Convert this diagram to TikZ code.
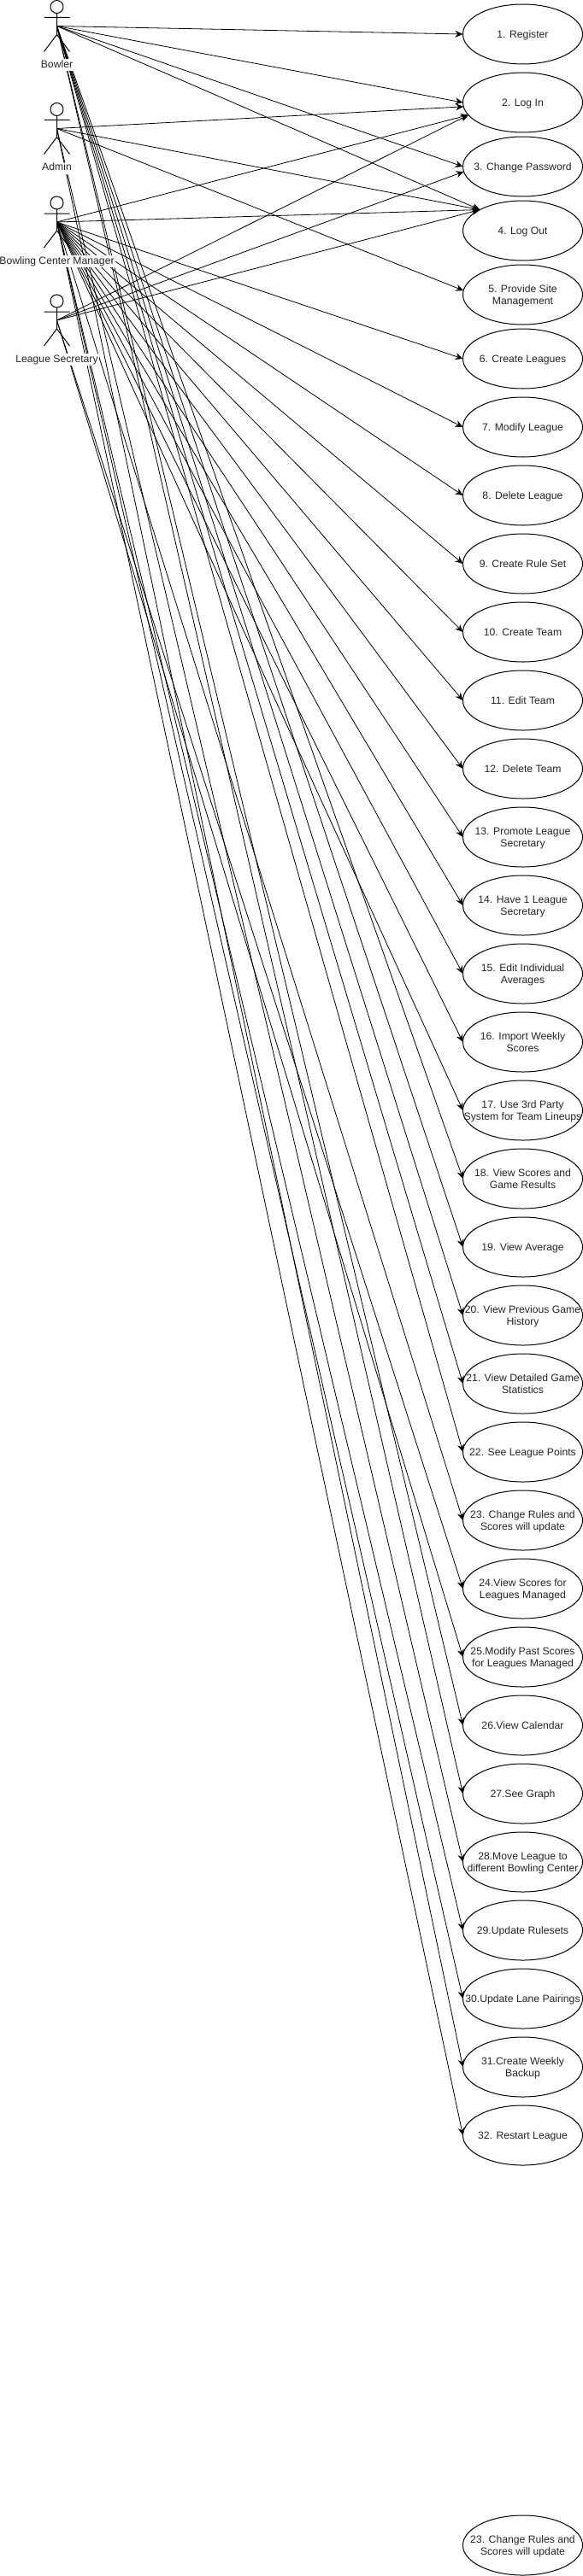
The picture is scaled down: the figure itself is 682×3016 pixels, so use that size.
\documentclass[tikz,border=0pt]{standalone}
\usepackage{fontspec}
\setmainfont{Liberation Sans}
\usetikzlibrary{arrows.meta,positioning,shapes.geometric}
\newcommand{\caselabel}[1]{\makebox[0pt]{\raisebox{-5pt}[0pt][0pt]{\begin{tabular}{@{}c@{}}#1\end{tabular}}}}
\begin{document}
\begin{tikzpicture}[
      x=1pt,y=-1pt,
      node distance=10pt,
      usecase/.style={ellipse,draw,line width=1pt,fill=white,text=black!85,inner sep=0pt,outer sep=0pt,minimum width=140pt,minimum height=70pt,font=\fontsize{12.2}{14}\selectfont},
      actorname/.style={fill=white,text=black!85,inner xsep=1pt,inner ysep=0pt,text height=10pt,text depth=4pt,font=\fontsize{12.2}{14}\selectfont},
      arrow/.style={-{Stealth[length=9pt,width=8pt,inset=3pt]},line width=0.8pt},
      stickman/.pic={
        \draw[line width=1pt] (0,-22.5) circle[radius=7.5pt];
        \draw[line width=1pt] (-15,-10) -- (15,-10) (0,-15) -- (0,10) (-15,30) -- (0,10) -- (15,30);
      }
    ]
      \useasboundingbox (0,0) rectangle (682,3016);
      \coordinate (bowler) at (66.5,30.5);
      \coordinate (admin) at (66.5,150.5);
      \coordinate (manager) at (66.5,260);
      \coordinate (secretary) at (66.5,375);
      \pic at (bowler) {stickman};
      \pic at (admin) {stickman};
      \pic at (manager) {stickman};
      \pic at (secretary) {stickman};
      \node[usecase] (uc1) at (611.5,40) {\caselabel{1. Register}};
      \node[usecase,below=of uc1] (uc2) {\caselabel{2. Log In}};
      \node[usecase,below=5pt of uc2] (uc3) {\caselabel{3. Change Password}};
      \node[usecase,below=5pt of uc3] (uc4) {\caselabel{4. Log Out}};
      \node[usecase,below=5pt of uc4] (uc5) {\caselabel{5. Provide Site\\Management}};
      \node[usecase,below=5pt of uc5] (uc6) {\caselabel{6. Create Leagues}};
      \node[usecase,below=of uc6] (uc7) {\caselabel{7. Modify League}};
      \node[usecase,below=of uc7] (uc8) {\caselabel{8. Delete League}};
      \node[usecase,below=of uc8] (uc9) {\caselabel{9. Create Rule Set}};
      \node[usecase,below=of uc9] (uc10) {\caselabel{10. Create Team}};
      \node[usecase,below=of uc10] (uc11) {\caselabel{11. Edit Team}};
      \node[usecase,below=of uc11] (uc12) {\caselabel{12. Delete Team}};
      \node[usecase,below=of uc12] (uc13) {\caselabel{13. Promote League\\Secretary}};
      \node[usecase,below=of uc13] (uc14) {\caselabel{14. Have 1 League\\Secretary}};
      \node[usecase,below=of uc14] (uc15) {\caselabel{15. Edit Individual\\Averages}};
      \node[usecase,below=of uc15] (uc16) {\caselabel{16. Import Weekly\\Scores}};
      \node[usecase,below=of uc16] (uc17) {\caselabel{17. Use 3rd Party\\System for Team Lineups}};
      \node[usecase,below=of uc17] (uc18) {\caselabel{18. View Scores and\\Game Results}};
      \node[usecase,below=of uc18] (uc19) {\caselabel{19. View Average}};
      \node[usecase,below=of uc19] (uc20) {\caselabel{20. View Previous Game\\History}};
      \node[usecase,below=of uc20] (uc21) {\caselabel{21. View Detailed Game\\Statistics}};
      \node[usecase,below=of uc21] (uc22) {\caselabel{22. See League Points}};
      \node[usecase,below=of uc22] (uc23) {\caselabel{23. Change Rules and\\Scores will update}};
      \node[usecase,below=of uc23] (uc24) {\caselabel{24.View Scores for\\Leagues Managed}};
      \node[usecase,below=of uc24] (uc25) {\caselabel{25.Modify Past Scores\\for Leagues Managed}};
      \node[usecase,below=of uc25] (uc26) {\caselabel{26.View Calendar}};
      \node[usecase,below=of uc26] (uc27) {\caselabel{27.See Graph}};
      \node[usecase,below=of uc27] (uc28) {\caselabel{28.Move League to\\different Bowling Center}};
      \node[usecase,below=of uc28] (uc29) {\caselabel{29.Update Rulesets}};
      \node[usecase,below=of uc29] (uc30) {\caselabel{30.Update Lane Pairings}};
      \node[usecase,below=of uc30] (uc31) {\caselabel{31.Create Weekly\\Backup}};
      \node[usecase,below=of uc31] (uc32) {\caselabel{32. Restart League}};
      \node[usecase,below=410pt of uc32] (ucextra) {\caselabel{23. Change Rules and\\Scores will update}};
      \draw[arrow] (bowler) -- (uc1.west);
      \draw[arrow] (bowler) -- (uc2.west);
      \draw[arrow] (bowler) -- (uc3.west);
      \draw[arrow] (bowler) -- (uc4.154);
      \draw[arrow] (bowler) -- (uc18.west);
      \draw[arrow] (bowler) -- (uc19.west);
      \draw[arrow] (bowler) -- (uc20.west);
      \draw[arrow] (bowler) -- (uc21.west);
      \draw[arrow] (bowler) -- (uc22.west);
      \draw[arrow] (bowler) -- (uc26.west);
      \draw[arrow] (bowler) -- (uc27.west);
      \draw[arrow] (admin) -- (uc2.184);
      \draw[arrow] (admin) -- (uc4.154);
      \draw[arrow] (admin) -- (uc5.176);
      \draw[arrow] (admin) -- (uc28.west);
      \draw[arrow] (admin) -- (uc31.west);
      \draw[arrow] (manager) -- (uc2.193);
      \draw[arrow] (manager) -- (uc4.154);
      \draw[arrow] (manager) -- (uc6.west);
      \draw[arrow] (manager) -- (uc7.west);
      \draw[arrow] (manager) -- (uc8.west);
      \draw[arrow] (manager) -- (uc9.west);
      \draw[arrow] (manager) -- (uc10.west);
      \draw[arrow] (manager) -- (uc11.west);
      \draw[arrow] (manager) -- (uc12.west);
      \draw[arrow] (manager) -- (uc13.west);
      \draw[arrow] (manager) -- (uc14.west);
      \draw[arrow] (manager) -- (uc15.west);
      \draw[arrow] (manager) -- (uc16.west);
      \draw[arrow] (manager) -- (uc17.west);
      \draw[arrow] (manager) -- (uc23.west);
      \draw[arrow] (manager) -- (uc29.west);
      \draw[arrow] (manager) -- (uc30.west);
      \draw[arrow] (manager) -- (uc32.west);
      \draw[arrow] (secretary) -- (uc2.193);
      \draw[arrow] (secretary) -- (uc3.185);
      \draw[arrow] (secretary) -- (uc4.154);
      \draw[arrow] (secretary) -- (uc24.west);
      \draw[arrow] (secretary) -- (uc25.west);
      \node[actorname,yshift=-46pt] (bowlername) at (bowler) {Bowler};
      \node[actorname,yshift=-46pt] (adminname) at (admin) {Admin};
      \node[actorname,yshift=-46pt] (managername) at (manager) {Bowling Center Manager};
      \node[actorname,yshift=-46pt] (secretaryname) at (secretary) {League Secretary};
    \end{tikzpicture}
\end{document}
